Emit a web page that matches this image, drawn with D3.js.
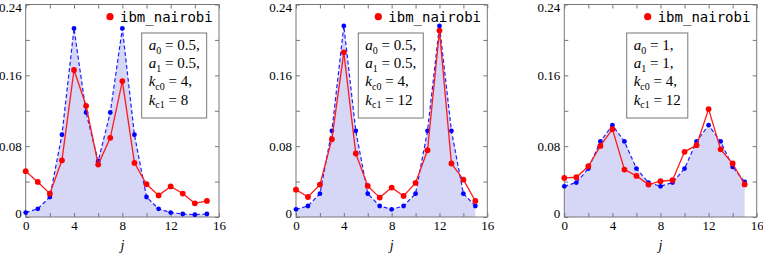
<!DOCTYPE html>
<html>
<head>
<meta charset="utf-8">
<script src="https://cdn.jsdelivr.net/npm/d3@7"></script>
<style>
  body { margin: 0; background: #fff; }
  svg { display: block; }
</style>
</head>
<body>
<script>
"use strict"
/* indici j e valori */
const indiciJ = [0, 1, 2, 3, 4, 5, 6, 7, 8, 9, 10, 11, 12, 13, 14, 15];
const teoria1 = [0.005, 0.0092, 0.0226, 0.093, 0.213, 0.118, 0.063, 0.118, 0.213, 0.093, 0.0226, 0.0092, 0.005, 0.0034, 0.0026, 0.0034];
const nairobi1 = [0.0517, 0.0396, 0.0264, 0.064, 0.166, 0.1256, 0.0592, 0.0894, 0.1535, 0.0611, 0.037, 0.0244, 0.0345, 0.0265, 0.0155, 0.0181];
const teoria2 = [0.0087, 0.0124, 0.0264, 0.0973, 0.2158, 0.0973, 0.0264, 0.0124, 0.0087, 0.0124, 0.0264, 0.0973, 0.2158, 0.0973, 0.0264, 0.0124];
const nairobi2 = [0.0309, 0.0226, 0.0366, 0.0879, 0.186, 0.0717, 0.0351, 0.0219, 0.0332, 0.0238, 0.0385, 0.0754, 0.2105, 0.0604, 0.0422, 0.0181];
const teoria3 = [0.0347, 0.0389, 0.0547, 0.0853, 0.1037, 0.0853, 0.0547, 0.0389, 0.0347, 0.0389, 0.0547, 0.0853, 0.1037, 0.0853, 0.0566, 0.0396];
const nairobi3 = [0.0441, 0.0449, 0.0573, 0.0803, 0.0992, 0.0536, 0.0464, 0.0366, 0.0404, 0.0415, 0.0736, 0.0811, 0.1219, 0.0764, 0.0604, 0.0368];
const parametriA0 = ["0.5", "0.5", "1"];
const parametriA1 = ["0.5", "0.5", "1"];
const parametriKc0 = ["4", "4", "4"];
const parametriKc1 = ["8", "12", "12"];
const nomeDispositivo = "ibm_nairobi";
const tickX = [0, 2, 4, 6, 8, 10, 12, 14, 16];
const tickXEtichette = [0, 4, 8, 12, 16];
const tickY = [0, 0.04, 0.08, 0.12, 0.16, 0.2, 0.24];
const tickYEtichette = [0, 0.08, 0.16, 0.24];
const testiTickY = ["0", "0.08", "0.16", "0.24"];

const teorie = [teoria1, teoria2, teoria3];
const misure = [nairobi1, nairobi2, nairobi3];

const fontSerif = "Liberation Serif";
const grigio = "#777";

/* misure dei pannelli in pixel */
const pannelli = [
    { sinistra: 25.7, larghezza: 193.3, boxX: 116 },
    { sinistra: 296, larghezza: 191.3, boxX: 62.3 },
    { sinistra: 564.3, larghezza: 192.4, boxX: 62.4 }
];
const alto = 4.5, basso = 217;

const svg = d3.select("body").append("svg")
    .attr("width", 763).attr("height", 254);

pannelli.forEach(function (p, n) {
    const x = d3.scaleLinear().domain([0, 16]).range([0, p.larghezza]);
    const y = d3.scaleLinear().domain([0, 0.24]).range([basso - alto, 0]);
    const g = svg.append("g").attr("transform", `translate(${p.sinistra},${alto})`);
    const punti = indiciJ.map(function (j, i) { return { j: j, t: teorie[n][i], m: misure[n][i] } });

    /* area sotto la curva teorica */
    g.append("path").datum(punti)
        .attr("fill", "#d6d6f7")
        .attr("d", d3.area().x(d => x(d.j)).y0(y(0)).y1(d => y(d.t)));

    /* assi con tacche interne */
    const fmtX = d => tickXEtichette.includes(d) ? String(d) : "";
    const fmtY = d => {
        const k = tickYEtichette.indexOf(d);
        return k >= 0 ? testiTickY[k] : "";
    };
    g.append("g").attr("transform", `translate(0,${y(0)})`)
        .call(d3.axisBottom(x).tickValues(tickX).tickSize(-4).tickPadding(4).tickFormat(fmtX));
    g.append("g")
        .call(d3.axisTop(x).tickValues(tickX).tickSize(-4).tickFormat(""));
    const asseY = g.append("g")
        .call(d3.axisLeft(y).tickValues(tickY).tickSize(-4).tickPadding(4).tickFormat(fmtY));
    g.append("g").attr("transform", `translate(${p.larghezza},0)`)
        .call(d3.axisRight(y).tickValues(tickY).tickSize(-4).tickFormat(""));
    g.selectAll(".domain").remove();
    g.selectAll(".tick line").attr("stroke", grigio);
    g.selectAll(".tick text")
        .attr("font-family", fontSerif).attr("font-size", "13px").attr("fill", "#000");
    /* le etichette agli estremi stanno un po' dentro il riquadro */
    asseY.selectAll(".tick text")
        .attr("dy", d => d === 0.24 ? "0.55em" : d === 0 ? "0.05em" : "0.32em");
    g.append("rect")
        .attr("x", 0).attr("y", 0)
        .attr("width", p.larghezza).attr("height", y(0))
        .attr("fill", "none").attr("stroke", grigio).attr("stroke-width", 1);

    /* curva teorica tratteggiata */
    g.append("path").datum(punti)
        .attr("fill", "none").attr("stroke", "#1f1fff")
        .attr("stroke-width", 1.2).attr("stroke-dasharray", "4,2.5")
        .attr("d", d3.line().x(d => x(d.j)).y(d => y(d.t)));
    g.selectAll(".pt").data(punti).enter().append("circle")
        .attr("cx", d => x(d.j)).attr("cy", d => y(d.t)).attr("r", 2.4)
        .attr("fill", "#0000ff");

    /* dati misurati */
    g.append("path").datum(punti)
        .attr("fill", "none").attr("stroke", "#ff1a1a").attr("stroke-width", 1.3)
        .attr("d", d3.line().x(d => x(d.j)).y(d => y(d.m)));
    g.selectAll(".pm").data(punti).enter().append("circle")
        .attr("cx", d => x(d.j)).attr("cy", d => y(d.m)).attr("r", 2.9)
        .attr("fill", "#ff0000");

    /* etichetta asse x */
    g.append("text")
        .attr("x", p.larghezza / 2).attr("y", 250 - alto)
        .attr("text-anchor", "middle")
        .attr("font-family", fontSerif).attr("font-style", "italic")
        .attr("font-size", "14px").text("j");

    /* legenda */
    g.append("circle").attr("cx", p.larghezza - 109).attr("cy", 16.7 - alto).attr("r", 3.6).attr("fill", "#ff0000");
    g.append("text")
        .attr("x", p.larghezza - 99).attr("y", 21.5 - alto)
        .attr("font-family", "DejaVu Sans Mono").attr("font-size", "14px")
        .text(nomeDispositivo);

    /* riquadro parametri */
    const righe = [
        ["a", "0", parametriA0[n]],
        ["a", "1", parametriA1[n]],
        ["k", "c0", parametriKc0[n]],
        ["k", "c1", parametriKc1[n]]
    ];
    const box = g.append("g");
    const rettangolo = box.append("rect");
    const testo = box.append("text")
        .attr("font-family", fontSerif).attr("font-size", "15px");
    righe.forEach(function (r, i) {
        const t = testo.append("tspan").attr("x", p.boxX + 7).attr("y", 50 - alto + i * 18.2);
        t.append("tspan").attr("font-style", "italic").text(r[0]);
        t.append("tspan").attr("font-size", "10px").attr("dy", 3.5).text(r[1]);
        t.append("tspan").attr("dy", -3.5).text(" = " + r[2] + (i < 3 ? "," : ""));
    });
    const bb = testo.node().getBBox();
    rettangolo
        .attr("x", p.boxX).attr("y", 33 - alto)
        .attr("width", bb.width + 14).attr("height", 85)
        .attr("fill", "#fff").attr("stroke", grigio).attr("stroke-width", 1);
});
</script>
</body>
</html>
